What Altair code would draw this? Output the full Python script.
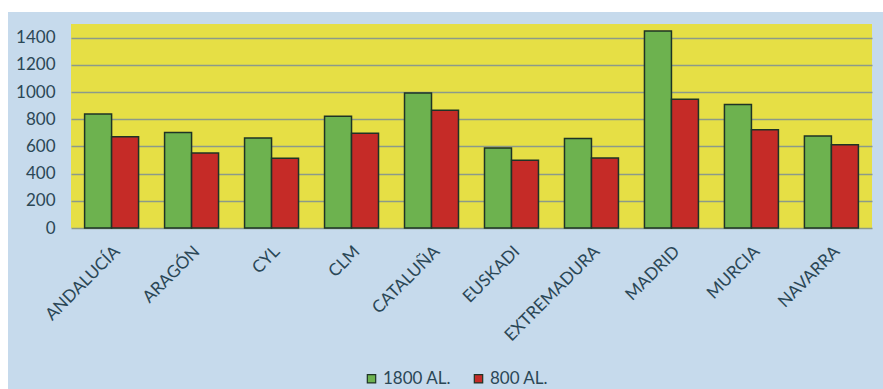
import altair as alt
import pandas as pd

regions = ["ANDALUCÍA", "ARAGÓN", "CYL", "CLM", "CATALUÑA", "EUSKADI",
           "EXTREMADURA", "MADRID", "MURCIA", "NAVARRA"]
series = ["1800 AL.", "800 AL."]
v1800 = [838, 703, 662, 821, 993, 588, 659, 1449, 909, 676]
v800 = [671, 551, 512, 696, 865, 498, 515, 946, 723, 613]
y_ticks = [0, 200, 400, 600, 800, 1000, 1200, 1400]

rows = []
for r, a, b in zip(regions, v1800, v800):
    rows.append({"region": r, "serie": series[0], "valor": a})
    rows.append({"region": r, "serie": series[1], "valor": b})
df = pd.DataFrame(rows)

W, H = 801, 204
PL, PT, PR, PB = 71, 24, 11, 161
TXT = "#2B4756"
FONT = "Lato"

bars = alt.Chart(df).mark_bar(stroke="#1E3326", strokeWidth=1.5).encode(
    x=alt.X("region:N", sort=regions,
            scale=alt.Scale(paddingInner=0.325, paddingOuter=0.17),
            axis=alt.Axis(title=None, labelAngle=-45, ticks=False, labelFontSize=17,
                          domain=False, labelPadding=15, grid=False)),
    xOffset=alt.XOffset("serie:N", sort=series),
    y=alt.Y("valor:Q", scale=alt.Scale(domain=[0, 1500], nice=False),
            axis=alt.Axis(title=None, values=y_ticks, format="d",
                          ticks=False, labelFontSize=17,
                          domain=False, labelPadding=16, grid=True,
                          gridColor="#8C9A8A", gridWidth=1.3)),
    color=alt.Color("serie:N", sort=series,
                    scale=alt.Scale(domain=series, range=["#6DB24F", "#C52B27"]),
                    legend=alt.Legend(title=None, orient="none", direction="horizontal",
                                      legendX=292, legendY=346, symbolType="square",
                                      symbolSize=70, symbolStrokeColor="#1E3326",
                                      symbolStrokeWidth=1.2, labelFont=FONT,
                                      labelFontSize=17, labelColor=TXT,
                                      labelOffset=3, columnPadding=18)),
)

strip_top = alt.Chart(pd.DataFrame({"k": [0]})).mark_rect(color="white").encode(
    x=alt.value(-PL), x2=alt.value(W + PR), y=alt.value(-PT), y2=alt.value(-PT + 12))
strip_left = alt.Chart(pd.DataFrame({"k": [0]})).mark_rect(color="white").encode(
    x=alt.value(-PL), x2=alt.value(-PL + 8), y=alt.value(-PT), y2=alt.value(H + PB))

chart = alt.layer(bars, strip_top, strip_left).properties(
    width=W, height=H,
    autosize=alt.AutoSizeParams(type="none"),
    padding={"left": PL, "top": PT, "right": PR, "bottom": PB},
    background="#C6DAEC",
).configure_view(fill="#E6DF45", stroke=None).configure_axis(
    labelFont=FONT, labelColor=TXT
)

chart.save("out.html", embed_options={"renderer": "svg", "actions": False})
